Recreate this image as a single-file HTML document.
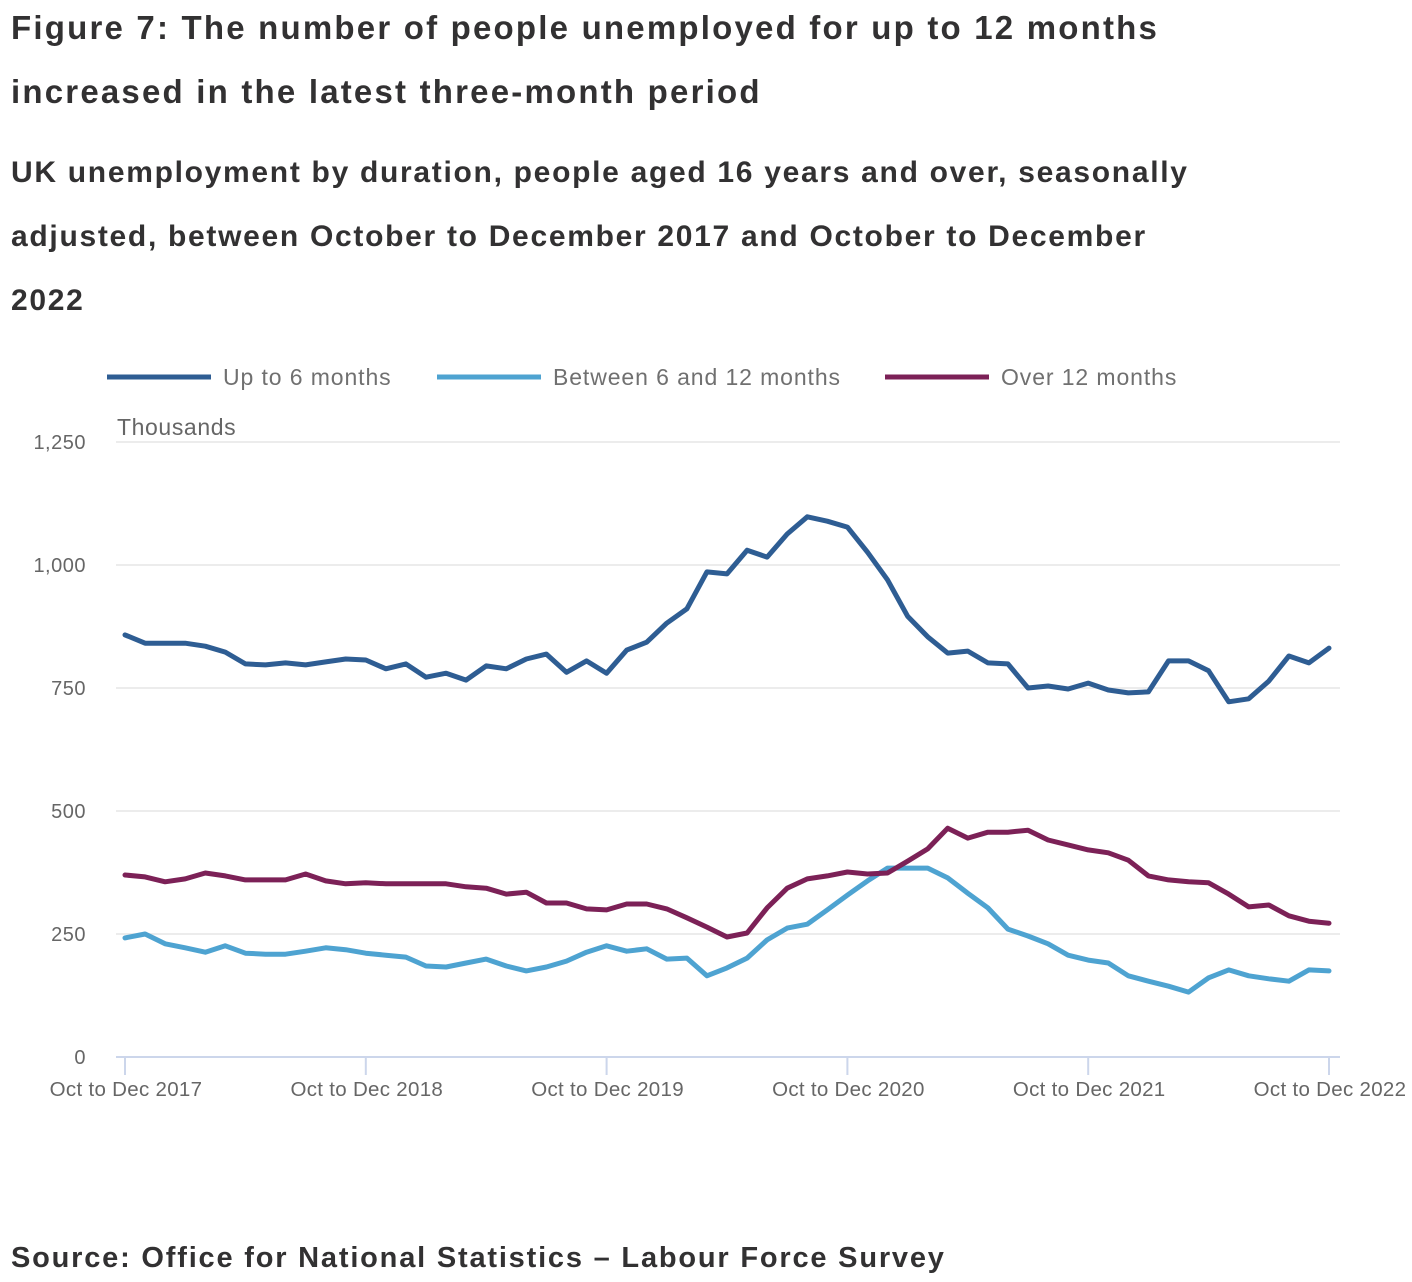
<!DOCTYPE html>
<html><head><meta charset="utf-8"><style>
body{margin:0;background:#fff;font-family:"Liberation Sans",sans-serif;}
.t{position:absolute;left:11px;font-weight:bold;color:#323132;margin:0;white-space:nowrap;}
</style></head><body>
<div style="position:relative;width:1412px;height:1282px;overflow:hidden">
<h1 class="t" style="top:-4px;font-size:33px;line-height:64px;letter-spacing:2.2px">Figure 7: The number of people unemployed for up to 12 months<br>increased in the latest three-month period</h1>
<h2 class="t" style="top:141px;font-size:30px;line-height:64px;letter-spacing:1.7px">UK unemployment by duration, people aged 16 years and over, seasonally<br>adjusted, between October to December 2017 and October to December<br>2022</h2>
<svg id="chart" width="1412" height="1282" style="position:absolute;left:0;top:0" font-family="Liberation Sans, sans-serif"></svg>
<div class="t" style="top:1242px;font-size:29px;letter-spacing:1.8px">Source: Office for National Statistics – Labour Force Survey</div>
</div>
<script>
const upTo6 = [858,841,841,841,835,823,799,797,801,797,803,809,807,789,799,772,780,766,795,789,809,819,782,805,780,827,843,882,911,986,982,1030,1016,1063,1098,1089,1077,1026,970,896,854,821,825,801,799,750,754,748,760,746,740,742,805,805,785,722,728,764,815,801,831];
const sixTo12 = [242,250,230,222,213,226,211,209,209,215,222,218,211,207,203,185,183,191,199,185,175,183,195,213,226,215,220,199,201,165,181,201,238,262,270,299,329,358,384,384,384,364,333,303,260,246,230,207,197,191,165,154,144,132,161,177,165,159,154,177,175];
const over12 = [370,366,356,362,374,368,360,360,360,372,358,352,354,352,352,352,352,346,343,331,335,313,313,301,299,311,311,301,283,264,244,252,303,343,362,368,376,372,374,398,423,465,445,457,457,461,441,431,421,415,400,368,360,356,354,331,305,309,287,276,272];
const yTicks = [0,250,500,750,1000,1250];
const yTickLabels = ["0","250","500","750","1,000","1,250"];
const xTickIdx = [0,12,24,36,48,60];
const xTickLabels = ["Oct to Dec 2017","Oct to Dec 2018","Oct to Dec 2019","Oct to Dec 2020","Oct to Dec 2021","Oct to Dec 2022"];
const seriesNames = ["Up to 6 months","Between 6 and 12 months","Over 12 months"];

const svg = document.getElementById('chart');
const NS = 'http://www.w3.org/2000/svg';
const X0=125, X1=1329, Y0=1057, Y1=442, VMAX=1250, N=upTo6.length;
const xs = i => X0 + (X1-X0)*i/(N-1);
const ys = v => Y0 - (Y0-Y1)*v/VMAX;
function mk(tag, attrs){const e=document.createElementNS(NS,tag);for(const k in attrs)e.setAttribute(k,attrs[k]);svg.appendChild(e);return e;}

yTicks.forEach((v,i)=>{
  if(v>0){const g=mk('line',{x1:116,x2:1340,y1:ys(v),y2:ys(v),stroke:'#e6e6e6','stroke-width':1.5});
  
  }
  const t=mk('text',{x:86,y:ys(v)+7,'text-anchor':'end','font-size':20,fill:'#666','letter-spacing':0.5});
  t.textContent=yTickLabels[i];
  
  
});
const yt=mk('text',{x:117,y:435,'font-size':23,fill:'#666','letter-spacing':0.6});yt.textContent='Thousands';


const ax=mk('line',{x1:116,x2:1340,y1:Y0,y2:Y0,stroke:'#ccd6eb','stroke-width':2});


xTickIdx.forEach((idx,i)=>{
  const tk=mk('line',{x1:xs(idx),x2:xs(idx),y1:Y0,y2:Y0+18,stroke:'#ccd6eb','stroke-width':2});
  
  
  const t=mk('text',{x:xs(idx)+1,y:1096,'text-anchor':'middle','font-size':20.5,fill:'#666','letter-spacing':0.3});
  t.textContent=xTickLabels[i];
  
  
});
const colors=['#2e5d93','#4ea3d1','#7c2157'];
[upTo6,sixTo12,over12].forEach((s,k)=>{
  const p=mk('polyline',{points:s.map((v,i)=>xs(i).toFixed(1)+','+ys(v).toFixed(1)).join(' '),fill:'none',stroke:colors[k],'stroke-width':5,'stroke-linejoin':'round','stroke-linecap':'round'});
  
  
});
const legX=[107,437,885];
seriesNames.forEach((n,k)=>{
  const l=mk('line',{x1:legX[k],x2:legX[k]+104,y1:377,y2:377,stroke:colors[k],'stroke-width':5});
  
  
  const t=mk('text',{x:legX[k]+116,y:385,'font-size':23,fill:'#707070','letter-spacing':0.9});
  t.textContent=n;
  
  
});
</script>
</body></html>
